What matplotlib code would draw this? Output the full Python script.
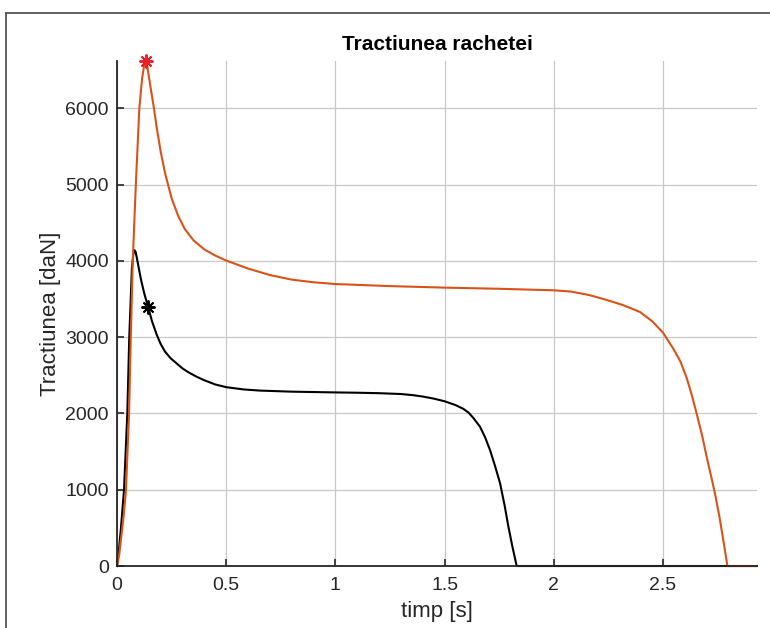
import matplotlib.pyplot as plt
from matplotlib.lines import Line2D

plt.rcParams['font.family'] = ['Liberation Sans', 'DejaVu Sans']

# thrust, upper curve (orange)
t_orange = [0, 0.01, 0.02, 0.03, 0.041, 0.055, 0.063, 0.072, 0.086, 0.102,
            0.115, 0.124, 0.131, 0.138, 0.145, 0.155, 0.169, 0.18, 0.20, 0.22,
            0.25, 0.28, 0.31, 0.35, 0.40, 0.45, 0.5, 0.6, 0.7, 0.8,
            0.9, 1.0, 1.25, 1.5, 1.75, 2.0, 2.08, 2.166, 2.24, 2.318,
            2.395, 2.45, 2.50, 2.547, 2.58, 2.608, 2.63, 2.654, 2.68, 2.70,
            2.72, 2.738, 2.76, 2.78, 2.795, 2.93]
f_orange = [0, 150, 400, 650, 1000, 2000, 3000, 4000, 5000, 6000,
            6400, 6560, 6620, 6560, 6430, 6250, 6000, 5780, 5430, 5150,
            4820, 4590, 4420, 4270, 4150, 4070, 4005, 3900, 3815, 3755,
            3720, 3697, 3670, 3650, 3635, 3615, 3598, 3550, 3490, 3420,
            3330, 3210, 3060, 2850, 2680, 2470, 2260, 2000, 1700, 1430,
            1180, 950, 620, 270, 0, 0]

# thrust, lower curve (black)
t_black = [0, 0.009, 0.018, 0.032, 0.047, 0.056, 0.068, 0.075, 0.080, 0.085,
           0.09, 0.10, 0.11, 0.125, 0.143, 0.16, 0.182, 0.20, 0.22, 0.245,
           0.273, 0.30, 0.33, 0.365, 0.40, 0.45, 0.5, 0.58, 0.655, 0.8,
           1.0, 1.1, 1.2, 1.3, 1.35, 1.40, 1.45, 1.5, 1.55, 1.586,
           1.61, 1.632, 1.662, 1.685, 1.708, 1.73, 1.754, 1.775, 1.792, 1.81,
           1.83, 2.93]
f_black = [0, 220, 500, 1000, 2000, 3000, 3900, 4100, 4140, 4120,
           4050, 3900, 3750, 3570, 3390, 3210, 3030, 2910, 2810, 2725,
           2656, 2590, 2535, 2481, 2435, 2380, 2345, 2315, 2300, 2286,
           2276, 2272, 2266, 2255, 2242, 2222, 2195, 2160, 2110, 2060,
           2010, 1940, 1826, 1690, 1520, 1320, 1084, 790, 516, 260,
           0, 0]

# marked points
star_red = (0.131, 6620)
star_black = (0.143, 3398)

fig = plt.figure(figsize=(7.7, 6.28), dpi=100)
ax = fig.add_axes([0.152, 0.0987, 0.831, 0.804])

ax.plot(t_black, f_black, color='black', lw=1.5, clip_on=False)
ax.plot(t_orange, f_orange, color='#D95319', lw=1.5, clip_on=False)
ax.plot(*star_red, marker=(8, 2, 0), color='#e8202a', ms=10, mew=1.4,
        clip_on=False)
ax.plot(*star_black, marker=(8, 2, 0), color='black', ms=10, mew=1.4)

ax.set_xlim(0, 2.93)
ax.set_ylim(0, 6620)
ax.set_xticks([0, 0.5, 1, 1.5, 2, 2.5])
ax.set_xticklabels(['0', '0.5', '1', '1.5', '2', '2.5'])
ax.set_yticks([0, 1000, 2000, 3000, 4000, 5000, 6000])

ax.grid(True, color='#c8c8c8', lw=0.9)
ax.set_axisbelow(True)
for s in ['top', 'right']:
    ax.spines[s].set_visible(False)
for s in ['left', 'bottom']:
    ax.spines[s].set_linewidth(1.3)
    ax.spines[s].set_color('#262626')
ax.tick_params(direction='in', length=5, width=1.2, colors='#262626',
               labelsize=14, labelcolor='#262626')
ax.tick_params(axis='x', pad=8)
ax.tick_params(axis='y', pad=6)

ax.set_title('Tractiunea rachetei', fontsize=15, fontweight='bold', pad=8)
ax.set_xlabel('timp [s]', fontsize=16, color='#262626', labelpad=5)
ax.set_ylabel('Tractiunea [daN]', fontsize=16, color='#262626', labelpad=3)

# outer frame of the screenshot
fig.add_artist(Line2D([6 / 770, 1], [1 - 13 / 628, 1 - 13 / 628],
                      transform=fig.transFigure, color='#555555', lw=1.3))
fig.add_artist(Line2D([6 / 770, 6 / 770], [0, 1 - 13 / 628],
                      transform=fig.transFigure, color='#555555', lw=1.3))

fig.savefig('out.png', dpi=100)
